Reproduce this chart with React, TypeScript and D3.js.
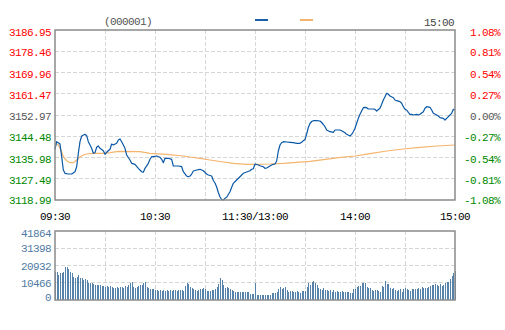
import React from "react";
import * as d3 from "d3";

// ---------- DATA ----------
const prevClose = 3152.97;
const priceTickValues = [3186.95, 3178.46, 3169.96, 3161.47, 3152.97, 3144.48, 3135.98, 3127.49, 3118.99];
const priceTickLabels = ["3186.95", "3178.46", "3169.96", "3161.47", "3152.97", "3144.48", "3135.98", "3127.49", "3118.99"];
const pctTickLabels = ["1.08%", "0.81%", "0.54%", "0.27%", "0.00%", "-0.27%", "-0.54%", "-0.81%", "-1.08%"];
const volTickValues = [41864, 31398, 20932, 10466, 0];
const volTickLabels = ["41864", "31398", "20932", "10466", "0"];
const timeLabels = ["09:30", "10:30", "11:30/13:00", "14:00", "15:00"];
const timeMinutes = [0, 60, 120, 180, 240];
const gridMinutes = [30, 60, 90, 120, 150, 180, 210];
const stockCode = "(000001)";
const topTime = "15:00";

const priceMinutes = [
  0, 1, 2, 3, 4, 5, 6, 8, 10, 12, 13, 14, 15, 16, 18, 19, 20, 22, 23, 24, 25, 26, 27, 29, 30, 31, 32, 33, 34, 35,
  37, 38, 39, 40, 42, 43, 45, 46, 48, 50, 52, 53, 54, 56, 57, 58, 59, 61, 63, 64, 65, 66, 68, 70, 71, 74, 76, 77, 79, 80,
  81, 82, 83, 85, 87, 89, 91, 92, 94, 95, 96, 97, 98, 99, 100, 101, 102, 103, 105, 106, 107, 109, 111, 112, 113, 115, 117, 118, 119, 120,
  122, 123, 125, 126, 127, 129, 130, 131, 132, 133, 134, 135, 136, 137, 139, 141, 143, 145, 147, 148, 149, 150, 151, 152, 153, 154, 155, 157, 159, 160,
  161, 162, 163, 165, 167, 168, 170, 171, 173, 174, 175, 177, 178, 179, 180, 181, 182, 183, 184, 185, 186, 187, 188, 189, 191, 192, 193, 195, 196, 197,
  198, 199, 200, 201, 203, 204, 205, 207, 208, 209, 210, 211, 212, 213, 214, 215, 217, 218, 219, 221, 222, 223, 225, 226, 227, 229, 230, 231, 233, 234,
  235, 237, 238, 239, 240,
];
const priceValues = [
  3139.26, 3142.30, 3141.90, 3141.38, 3136.30, 3130.98, 3129.66, 3129.38, 3129.38, 3130.30, 3132.30, 3137.66, 3142.30, 3144.58, 3145.25, 3144.69, 3142.30, 3139.65, 3137.66, 3137.90,
  3140.06, 3140.58, 3139.65, 3138.70, 3137.26, 3138.06, 3138.70, 3139.26, 3141.38, 3140.98,
  3141.66, 3142.98, 3143.38, 3142.30, 3139.65, 3136.97, 3134.98, 3133.66, 3133.26, 3131.66, 3130.30, 3130.06, 3131.66, 3133.66, 3135.26, 3136.30, 3136.30, 3136.57, 3136.06, 3135.26,
  3133.90, 3135.66, 3135.66, 3135.26, 3132.58, 3132.58, 3132.30, 3130.30, 3128.58, 3128.30,
  3128.58, 3129.38, 3130.58, 3130.98, 3131.26, 3130.70, 3129.38, 3128.98, 3128.58, 3126.79, 3125.78, 3124.19, 3121.99, 3120.19, 3119.19, 3118.99, 3119.67, 3120.07, 3122.30, 3124.07,
  3125.66, 3126.98, 3128.30, 3128.98, 3129.66, 3130.18, 3130.70, 3131.26, 3131.50, 3133.38,
  3132.98, 3132.70, 3132.30, 3131.66, 3131.78, 3132.58, 3132.98, 3133.26, 3133.38, 3134.58, 3138.58, 3140.98, 3141.90, 3142.30, 3142.18, 3142.06, 3141.90, 3141.66, 3141.66, 3142.06,
  3142.70, 3143.18, 3145.37, 3147.97, 3149.57, 3150.37, 3150.69, 3150.69, 3150.57, 3149.97,
  3149.17, 3148.29, 3146.97, 3146.29, 3146.05, 3146.97, 3146.97, 3146.97, 3146.29, 3145.89, 3145.25, 3144.58, 3145.25, 3146.29, 3147.65, 3149.65, 3151.64, 3153.24, 3154.56, 3155.89,
  3156.05, 3155.89, 3155.37, 3155.37, 3155.37, 3155.25, 3154.56, 3155.65, 3157.25, 3158.97,
  3160.29, 3161.65, 3161.25, 3160.57, 3159.89, 3158.97, 3158.69, 3158.29, 3157.65, 3156.29, 3155.25, 3154.96, 3154.04, 3153.24, 3153.24, 3152.97, 3153.24, 3152.97, 3153.24, 3154.28,
  3155.65, 3156.29, 3156.05, 3154.96, 3153.64, 3152.97, 3152.57, 3151.89, 3151.64, 3150.97,
  3151.64, 3152.97, 3153.64, 3155.25, 3154.96,
];

const avgMinutes = [0, 2, 4, 5, 7, 9, 11, 13, 15, 17, 19, 23, 29, 33, 38, 51, 57, 67, 77, 81, 87, 93, 101, 107, 115, 121, 129, 137, 145, 153, 160, 170, 180, 189, 199, 209, 219, 229, 240];
const avgValues = [
  3141.66, 3140.98, 3138.30, 3136.30, 3134.70, 3133.90, 3133.90, 3134.98, 3136.30, 3136.97, 3137.38, 3137.66, 3137.66, 3137.90, 3138.46, 3138.30, 3137.66, 3137.26, 3136.57, 3136.17,
  3135.66, 3134.98, 3134.18, 3133.66, 3133.26, 3133.26, 3133.38, 3133.66, 3134.06, 3134.46, 3135.06, 3135.90, 3136.57, 3137.50, 3138.57, 3139.37, 3140.05, 3140.58, 3140.98,
];

const volumes = [
  17190, 17190, 15170, 16580, 16580, 17190, 20220, 20220, 18600, 17190,
  16180, 14150, 13550, 14150, 15170, 13140, 13550, 12130, 12740, 12130,
  10510, 10510, 10110, 9710, 9100, 9100, 9100, 9100, 8490, 8490,
  8090, 8490, 7680, 8490, 8090, 7080, 7480, 7680, 7080, 7680,
  8090, 7080, 8490, 7680, 9100, 10110, 11120, 7680, 7080, 8090,
  8490, 9100, 9100, 10110, 11120, 7680, 7080, 6470, 6470, 6470,
  6070, 6070, 5660, 6070, 5660, 6070, 5660, 6070, 5660, 6070,
  5660, 6070, 6070, 5660, 6070, 6070, 6070, 5660, 8490, 10110,
  9710, 8090, 7080, 6470, 6070, 5660, 6070, 6470, 6470, 7080,
  6470, 5660, 5460, 5660, 6070, 6070, 6470, 7680, 9710, 13140,
  12130, 9100, 7080, 7680, 7080, 6470, 6070, 5660, 5060, 5060,
  5060, 5060, 5060, 5060, 5060, 5060, 5060, 3640, 3640, 3640,
  10510, 3030, 3030, 3030, 3030, 3030, 3030, 3030, 3030, 3030,
  4040, 4040, 4450, 5060, 6470, 7680, 6470, 7080, 7680, 6070,
  5060, 5660, 5660, 5060, 5060, 5460, 5060, 4450, 5660, 5660,
  5660, 8090, 10510, 9100, 11120, 11730, 10110, 9100, 7080, 6470,
  6070, 7080, 6070, 6070, 5660, 6070, 5060, 6070, 5060, 5660,
  5060, 5060, 5460, 5060, 5060, 5060, 5060, 4450, 4450, 6670,
  6670, 7680, 8490, 8490, 10510, 10110, 10510, 8090, 7080, 7080,
  6070, 5660, 6070, 6070, 5660, 5060, 8490, 8090, 11530, 9710,
  9710, 7080, 6470, 7080, 6070, 5660, 6070, 6470, 5060, 6470,
  7080, 6470, 6070, 5660, 6470, 6470, 6670, 6470, 7080, 6870,
  7680, 7080, 7280, 7080, 8090, 8490, 8900, 8900, 9710, 9100,
  8490, 9500, 8490, 9100, 10510, 10920, 11120, 12540, 14560, 16180,
  17590,
];

// ---------- STYLE ----------
const FONT = "'Liberation Mono', 'DejaVu Sans Mono', monospace";
const RED = "#ff0000";
const GREEN = "#008800";
const GRAY = "#555555";
const VOLC = "#4f7aa3";
const BAR = "#5782aa";
const LINE = "#0a58a6";
const AVG = "#f5b46e";
const FRAME = "#8a8a8a";
const GRID = "#d6d6d6";

const L = 55, R = 455, T = 30, B = 200, VT = 231, VB = 300;

export default function App() {
  const x = d3.scaleLinear().domain([0, 240]).range([L, R]);
  const y = d3.scaleLinear().domain([3118.99, 3186.95]).range([B, T]);
  const yv = d3.scaleLinear().domain([0, 41864]).range([VB, VT]);

  const pricePts = priceMinutes.map((m, i) => [m, priceValues[i]] as [number, number]);
  const avgPts = avgMinutes.map((m, i) => [m, avgValues[i]] as [number, number]);
  const line = d3.line<[number, number]>().x((d) => x(d[0])).y((d) => y(d[1]));

  const colorFor = (v: number) => (Math.abs(v - prevClose) < 0.01 ? GRAY : v > prevClose ? RED : GREEN);
  const clampMain = (yy: number) => Math.min(Math.max(yy + 1, 32), 199.5);
  const clampVol = (yy: number) => Math.min(Math.max(yy, 233.3), 297);

  const volTicksY = volTickValues.map((v) => yv(v));

  return (
    <svg width={505} height={330} style={{ position: "absolute", left: 0, top: 0, background: "#fff" }} fontFamily={FONT}>
      <rect x={0} y={0} width={505} height={330} fill="#fff" />
      {/* header */}
      <text x={128} y={25} fontSize={11} letterSpacing={-0.6} fill={GRAY} textAnchor="middle">{stockCode}</text>
      <line x1={255} x2={268} y1={20} y2={20} stroke="#1a5fa8" strokeWidth={2} />
      <line x1={300} x2={313} y1={20} y2={20} stroke={AVG} strokeWidth={2} />
      <text x={454} y={26} fontSize={11} letterSpacing={-0.6} fill="#444" textAnchor="end">{topTime}</text>

      {/* main grid */}
      <g stroke={GRID} strokeWidth={1} strokeDasharray="4,2" shapeRendering="crispEdges">
        {priceTickValues.slice(1, -1).map((v, i) => (
          <line key={"h" + i} x1={L} x2={R} y1={y(v)} y2={y(v)} />
        ))}
        {gridMinutes.map((m, i) => (
          <line key={"v" + i} x1={x(m)} x2={x(m)} y1={T} y2={B} />
        ))}
        {volTickValues.slice(1, -1).map((v, i) => (
          <line key={"vh" + i} x1={L} x2={R} y1={yv(v)} y2={yv(v)} />
        ))}
        {gridMinutes.map((m, i) => (
          <line key={"vv" + i} x1={x(m)} x2={x(m)} y1={VT} y2={VB} />
        ))}
      </g>

      {/* volume bars */}
      <g fill={BAR} shapeRendering="crispEdges">
        {volumes.map((v, i) => (
          <rect key={i} x={Math.round(x(i))} y={yv(v)} width={1} height={VB - yv(v)} />
        ))}
      </g>

      {/* lines */}
      <path d={line(avgPts) || ""} fill="none" stroke={AVG} strokeWidth={1.2} />
      <path d={line(pricePts) || ""} fill="none" stroke={LINE} strokeWidth={1.2} strokeLinejoin="round" />

      {/* frames */}
      <rect x={L} y={T} width={R - L} height={B - T} fill="none" stroke={FRAME} strokeWidth={1.5} />
      <rect x={L} y={VT} width={R - L} height={VB - VT} fill="none" stroke={FRAME} strokeWidth={1.5} />

      {/* price labels */}
      <g fontSize={11} letterSpacing={-0.6} textAnchor="end">
        {priceTickValues.map((v, i) => (
          <text key={i} x={51} y={clampMain(y(v)) + 4} fill={colorFor(v)}>{priceTickLabels[i]}</text>
        ))}
        {priceTickValues.map((v, i) => (
          <text key={"p" + i} x={500} y={clampMain(y(v)) + 4} fill={colorFor(v)}>{pctTickLabels[i]}</text>
        ))}
        {volTickValues.map((v, i) => (
          <text key={"v" + i} x={51} y={clampVol(volTicksY[i]) + 4} fill={VOLC}>{volTickLabels[i]}</text>
        ))}
      </g>

      {/* time labels */}
      <g fontSize={11} letterSpacing={-0.6} textAnchor="middle" fill="#000">
        {timeMinutes.map((m, i) => (
          <text key={i} x={x(m)} y={220}>{timeLabels[i]}</text>
        ))}
      </g>
    </svg>
  );
}
